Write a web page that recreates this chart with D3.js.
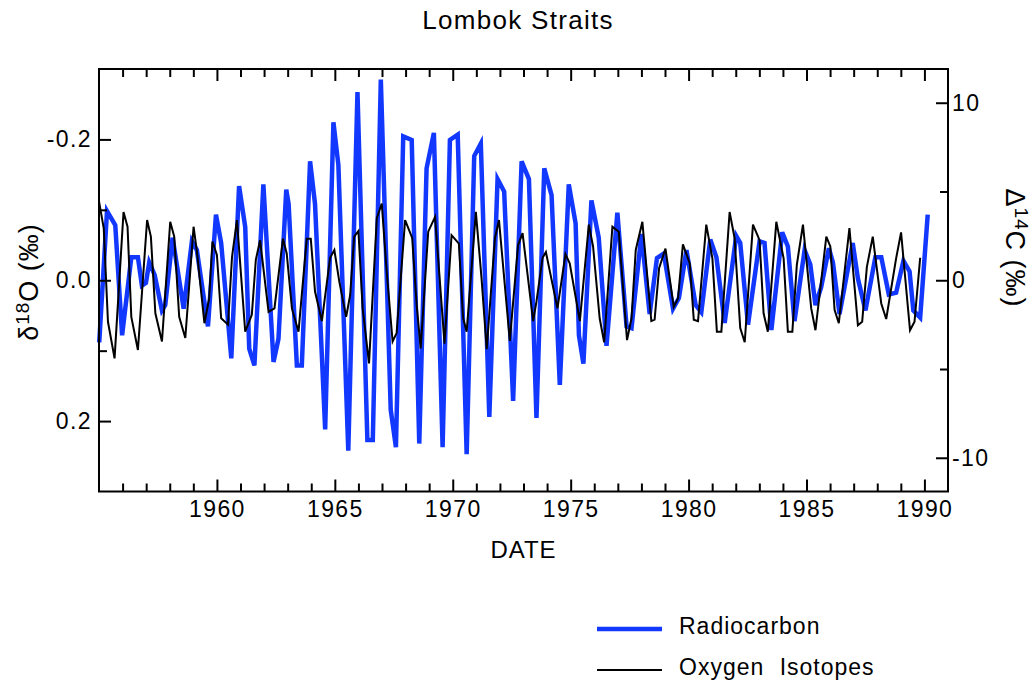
<!DOCTYPE html>
<html>
<head>
<meta charset="utf-8">
<script src="https://cdn.jsdelivr.net/npm/d3@7"></script>
<style>
  body { margin: 0; background: #fff; }
  svg { display: block; font-family: "Liberation Sans", Arial, Helvetica, sans-serif; }
</style>
</head>
<body>
<script>
// Radiocarbon (Delta 14C, per mil) - right axis
var c14Dates = [1955.01, 1955.34, 1955.69, 1955.98, 1956.37, 1956.65, 1956.82, 1956.99, 1957.13, 1957.36,
  1957.67, 1957.81, 1958.12, 1958.59, 1958.94, 1959.15, 1959.62, 1959.96, 1960.18, 1960.61,
  1960.94, 1961.20, 1961.37, 1961.59, 1961.97, 1962.40, 1962.61, 1962.94, 1963.04, 1963.39,
  1963.60, 1963.95, 1964.16, 1964.59, 1964.94, 1965.15, 1965.57, 1965.96, 1966.38, 1966.61,
  1966.95, 1967.37, 1967.59, 1967.90, 1968.26, 1968.58, 1968.89, 1969.20, 1969.57, 1969.88,
  1970.21, 1970.59, 1970.91, 1971.19, 1971.55, 1971.90, 1972.18, 1972.56, 1972.92, 1973.23,
  1973.55, 1973.88, 1974.19, 1974.54, 1974.92, 1975.21, 1975.35, 1975.54, 1975.88, 1976.19,
  1976.52, 1976.98, 1977.37, 1977.58, 1978.00, 1978.35, 1978.66, 1978.95, 1979.34, 1979.59,
  1979.91, 1980.30, 1980.54, 1980.92, 1981.18, 1981.53, 1982.02, 1982.19, 1982.52, 1983.01,
  1983.22, 1983.51, 1983.97, 1984.21, 1984.49, 1984.92, 1985.16, 1985.38, 1985.62, 1985.95,
  1986.12, 1986.40, 1986.96, 1987.18, 1987.50, 1987.92, 1988.17, 1988.49, 1988.80, 1989.11,
  1989.37, 1989.53, 1989.82, 1990.14];
var c14Values = [-3.5, 3.9, 3.1, -3.1, 1.3, 1.3, -0.3, -0.15, 1.0, 0.3,
  -1.7, -1.4, 2.4, -1.6, 2.2, 1.7, -2.6, 3.7, 2.1, -4.4,
  5.3, 3.0, -3.85, -4.8, 5.4, -4.6, -3.3, 5.1, 4.3, -4.8,
  -4.8, 6.7, 4.3, -8.4, 8.9, 6.5, -9.6, 10.6, -9.0, -9.0,
  11.3, -7.3, -9.4, 8.1, 7.9, -9.2, 6.3, 8.3, -9.4, 7.9,
  8.2, -9.8, 7.0, 7.7, -7.7, 5.7, 5.0, -6.8, 6.7, 5.7,
  -7.75, 6.3, 4.8, -5.9, 5.4, 3.2, -3.1, -4.7, 4.5, 2.4,
  -3.7, 3.8, -2.6, -2.7, 2.6, -1.9, 1.25, 1.5, -1.6, -1.0,
  1.7, -1.4, -1.8, 2.3, 1.3, -2.4, 2.5, 2.1, -2.5, 2.2,
  2.1, -2.8, 2.7, 1.9, -2.3, 1.7, 0.9, -1.4, -0.4, 1.8,
  1.0, -1.9, 2.1, 0.1, -1.7, 1.3, 1.3, -0.8, -0.7, 1.1,
  0.5, -1.7, -2.1, 3.7];

// Oxygen isotopes (delta 18O, per mil) - left axis, reversed
var o18Dates = [1955.00, 1955.20, 1955.38, 1955.66, 1956.04, 1956.21, 1956.37, 1956.65, 1957.04, 1957.20,
  1957.39, 1957.67, 1958.02, 1958.19, 1958.40, 1958.66, 1959.01, 1959.15, 1959.47, 1959.67,
  1959.81, 1960.00, 1960.18, 1960.47, 1960.64, 1960.85, 1961.20, 1961.48, 1961.65, 1961.83,
  1962.19, 1962.44, 1962.80, 1962.96, 1963.18, 1963.46, 1963.81, 1963.98, 1964.16, 1964.45,
  1964.80, 1964.98, 1965.19, 1965.48, 1965.65, 1965.82, 1966.00, 1966.18, 1966.45, 1966.78,
  1966.99, 1967.20, 1967.45, 1967.62, 1967.98, 1968.28, 1968.47, 1968.64, 1968.96, 1969.25,
  1969.65, 1969.95, 1970.26, 1970.44, 1970.59, 1970.98, 1971.22, 1971.44, 1971.79, 1971.96,
  1972.42, 1972.77, 1972.96, 1973.41, 1973.55, 1973.81, 1973.95, 1974.44, 1974.78, 1974.96,
  1975.39, 1975.77, 1975.95, 1976.23, 1976.42, 1976.77, 1977.04, 1977.39, 1977.58, 1977.76,
  1978.04, 1978.42, 1978.56, 1978.75, 1979.02, 1979.37, 1979.55, 1979.76, 1980.05, 1980.22,
  1980.40, 1980.75, 1981.01, 1981.20, 1981.39, 1981.74, 1981.95, 1982.19, 1982.38, 1982.73,
  1983.01, 1983.18, 1983.36, 1983.72, 1984.03, 1984.21, 1984.40, 1984.59, 1984.85, 1985.20,
  1985.38, 1985.84, 1986.01, 1986.19, 1986.37, 1986.82, 1987.18, 1987.36, 1987.56, 1987.81,
  1988.17, 1988.38, 1988.80, 1989.01, 1989.29, 1989.39, 1989.58, 1989.82];
var o18Values = [-0.112, -0.074, 0.059, 0.111, -0.097, -0.076, 0.052, 0.099, -0.0855, -0.062,
  0.047, 0.087, -0.083, -0.062, 0.052, 0.082, -0.076, -0.041, 0.061, 0.026,
  -0.055, -0.036, 0.054, 0.063, -0.033, -0.0855, 0.073, 0.049, -0.029, -0.057,
  0.045, 0.040, -0.059, -0.038, 0.040, 0.073, -0.059, -0.059, 0.016, 0.058,
  -0.032, -0.043, 0.002, 0.052, 0.021, -0.062, -0.070, 0.040, 0.118, -0.088,
  -0.109, -0.012, 0.087, 0.075, -0.0855, -0.060, 0.035, 0.097, -0.069, -0.090,
  0.090, -0.064, -0.052, 0.054, 0.073, -0.097, -0.003, 0.098, -0.060, -0.0855,
  0.086, -0.050, -0.067, 0.058, 0.030, -0.032, -0.040, 0.040, -0.037, -0.024,
  0.058, -0.079, -0.048, 0.054, 0.088, -0.076, -0.069, 0.085, 0.054, -0.043,
  -0.083, 0.058, 0.056, -0.017, -0.045, 0.038, 0.026, -0.051, -0.024, 0.056,
  0.058, -0.079, -0.031, 0.073, 0.073, -0.097, -0.060, 0.068, 0.088, -0.079,
  -0.057, 0.047, 0.073, -0.083, -0.031, 0.073, 0.073, -0.022, -0.079, 0.040,
  0.071, -0.062, -0.048, 0.042, 0.061, -0.074, 0.064, 0.059, -0.019, -0.062,
  0.033, 0.055, -0.031, -0.068, 0.035, 0.071, 0.059, -0.032];

var majorYears = [1960, 1965, 1970, 1975, 1980, 1985, 1990];
var leftTicks = [-0.2, 0.0, 0.2];
var leftMinor = [-0.1, 0.1];
var rightTicks = [-10, 0, 10];
var rightMinor = [-5, 5];

var width = 1034, height = 685;
var plot = {left: 99, right: 948, top: 69, bottom: 491.5};
var blue = "#1238ff";

var x = d3.scaleLinear().domain([1955, 1991]).range([plot.left, plot.right]);
var yL = d3.scaleLinear().domain([-0.3, 0.3]).range([plot.top, plot.bottom]);
var yR = d3.scaleLinear().domain([-11.9, 11.9]).range([plot.bottom, plot.top]);

var svg = d3.select("body").append("svg")
    .attr("width", width)
    .attr("height", height);

// title
svg.append("text")
    .attr("x", 518).attr("y", 29)
    .attr("text-anchor", "middle")
    .style("font-size", "26px")
    .style("letter-spacing", "1.3px")
    .text("Lombok Straits");

// data lines
var c14 = c14Dates.map(function(d, i) { return [d, c14Values[i]]; });
var o18 = o18Dates.map(function(d, i) { return [d, o18Values[i]]; });

svg.append("path")
    .datum(c14)
    .attr("fill", "none")
    .attr("stroke", blue)
    .attr("stroke-width", 4.5)
    .attr("d", d3.line().x(function(d) { return x(d[0]); }).y(function(d) { return yR(d[1]); }));

svg.append("path")
    .datum(o18)
    .attr("fill", "none")
    .attr("stroke", "#000")
    .attr("stroke-width", 2)
    .attr("d", d3.line().x(function(d) { return x(d[0]); }).y(function(d) { return yL(d[1]); }));

// axes, ticks pointing into the plot
var minorYears = d3.range(1956, 1991).filter(function(y) { return majorYears.indexOf(y) < 0; });

function styleAxis(g) {
  g.select(".domain").remove();
  g.selectAll(".tick line").attr("stroke", "#000").attr("stroke-width", 2);
  g.selectAll("text")
    .attr("fill", "#000")
    .style("font-size", "23px")
    .style("font-family", "'Liberation Sans', Arial, sans-serif")
    .style("letter-spacing", "1.4px");
}

svg.append("g").attr("transform", "translate(0," + plot.bottom + ")")
    .call(d3.axisBottom(x).tickValues(majorYears).tickSize(-12).tickPadding(9).tickFormat(d3.format("d")))
    .call(styleAxis);
svg.append("g").attr("transform", "translate(0," + plot.bottom + ")")
    .call(d3.axisBottom(x).tickValues(minorYears).tickSize(-8).tickFormat(""))
    .call(styleAxis);
svg.append("g").attr("transform", "translate(0," + plot.top + ")")
    .call(d3.axisTop(x).tickValues(majorYears).tickSize(-12).tickFormat(""))
    .call(styleAxis);
svg.append("g").attr("transform", "translate(0," + plot.top + ")")
    .call(d3.axisTop(x).tickValues(minorYears).tickSize(-8).tickFormat(""))
    .call(styleAxis);

svg.append("g").attr("transform", "translate(" + plot.left + ",0)")
    .call(d3.axisLeft(yL).tickValues(leftTicks).tickSize(-12).tickPadding(7)
      .tickFormat(function(d) { return d.toFixed(1); }))
    .call(styleAxis);
svg.append("g").attr("transform", "translate(" + plot.left + ",0)")
    .call(d3.axisLeft(yL).tickValues(leftMinor).tickSize(-8).tickFormat(""))
    .call(styleAxis);

svg.append("g").attr("transform", "translate(" + plot.right + ",0)")
    .call(d3.axisRight(yR).tickValues(rightTicks).tickSize(-12).tickPadding(4)
      .tickFormat(function(d) { return String(d); }))
    .call(styleAxis);
svg.append("g").attr("transform", "translate(" + plot.right + ",0)")
    .call(d3.axisRight(yR).tickValues(rightMinor).tickSize(-8).tickFormat(""))
    .call(styleAxis);

// frame
svg.append("rect")
    .attr("x", plot.left).attr("y", plot.top)
    .attr("width", plot.right - plot.left).attr("height", plot.bottom - plot.top)
    .attr("fill", "none").attr("stroke", "#000").attr("stroke-width", 2);

// axis titles
svg.append("text")
    .attr("x", (plot.left + plot.right) / 2).attr("y", 558)
    .attr("text-anchor", "middle")
    .style("font-size", "24px")
    .style("letter-spacing", "1px")
    .text("DATE");

var lt = svg.append("text")
    .attr("transform", "translate(38,282) rotate(-90)")
    .attr("text-anchor", "middle")
    .style("font-size", "27px")
    .style("letter-spacing", "1px");
lt.append("tspan").text("\u03b4");
lt.append("tspan").attr("dy", -9).style("font-size", "19px").text("18");
lt.append("tspan").attr("dy", 9).text("O (\u2030)");

var rt = svg.append("text")
    .attr("transform", "translate(1006,248) rotate(90)")
    .attr("text-anchor", "middle")
    .style("font-size", "27px")
    .style("letter-spacing", "1px");
rt.append("tspan").text("\u0394");
rt.append("tspan").attr("dy", -9).style("font-size", "19px").text("14");
rt.append("tspan").attr("dy", 9).text("C (\u2030)");

// legend
var legend = [
  {name: "Radiocarbon", color: blue, w: 4.5, y: 629},
  {name: "Oxygen Isotopes", color: "#000", w: 2, y: 670}
];
var lg = svg.append("g").selectAll("g").data(legend).enter().append("g");
lg.append("line")
    .attr("x1", 597).attr("x2", 662)
    .attr("y1", function(d) { return d.y; }).attr("y2", function(d) { return d.y; })
    .attr("stroke", function(d) { return d.color; })
    .attr("stroke-width", function(d) { return d.w; });
lg.append("text")
    .attr("x", 679).attr("y", function(d) { return d.y + 5; })
    .style("font-size", "23px")
    .style("letter-spacing", "1px")
    .style("word-spacing", "8px")
    .text(function(d) { return d.name; });
</script>
</body>
</html>
